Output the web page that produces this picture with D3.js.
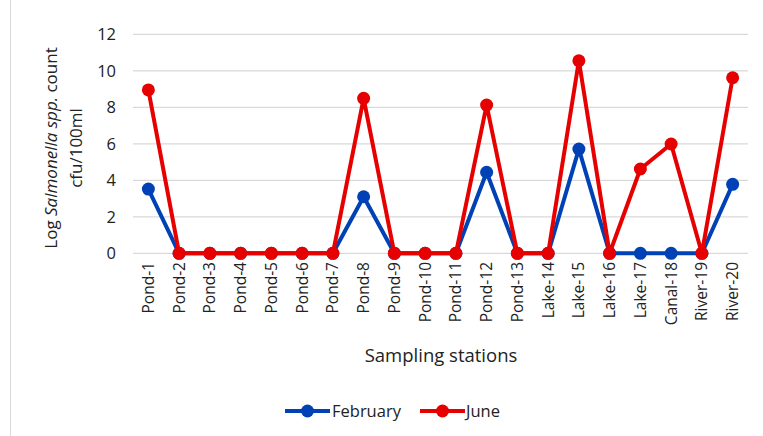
<!DOCTYPE html>
<html><head><meta charset="utf-8">
<script src="https://cdn.jsdelivr.net/npm/d3@7"></script>
<style>body{margin:0;background:#fff}svg{display:block}text{font-family:"Open Sans","Noto Sans",sans-serif;fill:#222}</style>
</head><body><svg id="c" width="763" height="436"></svg>
<script>
const stations = ["Pond-1","Pond-2","Pond-3","Pond-4","Pond-5","Pond-6","Pond-7","Pond-8","Pond-9","Pond-10","Pond-11","Pond-12","Pond-13","Lake-14","Lake-15","Lake-16","Lake-17","Canal-18","River-19","River-20"];
const february = [3.52,0,0,0,0,0,0,3.1,0,0,0,4.44,0,0,5.71,0,0,0,0,3.78];
const june = [8.95,0,0,0,0,0,0,8.49,0,0,0,8.12,0,0,10.55,0,4.62,5.99,0,9.62];
const yTicks = [0,2,4,6,8,10,12];
const seriesNames = ["February","June"];
const seriesColors = ["#0042b5","#e60000"];

const svg = d3.select("#c");
const x = d3.scaleBand().domain(stations).range([133,748]);
const y = d3.scaleLinear().domain([0,12]).range([253.3,34.3]);

svg.append("line").attr("x1",10.5).attr("x2",10.5).attr("y1",0).attr("y2",436).attr("stroke","#d9d9d9");

svg.append("g").selectAll("line").data(yTicks).join("line")
  .attr("x1",133).attr("x2",748).attr("y1",d=>y(d)).attr("y2",d=>y(d))
  .attr("stroke","#d9d9d9").attr("stroke-width",1.2);

svg.append("g").selectAll("text").data(yTicks).join("text")
  .attr("x",116).attr("y",d=>y(d)).attr("dy","0.36em").attr("text-anchor","end")
  .style("font-size","16.5px").text(d=>d);

svg.append("g").selectAll("text").data(stations).join("text")
  .attr("transform",d=>`translate(${x(d)+x.bandwidth()/2+5.5},262) rotate(-90)`)
  .attr("text-anchor","end").style("font-size","15.5px").text(d=>d);

const yt = svg.append("text").attr("transform","translate(64,148) rotate(-90)").attr("text-anchor","middle").style("font-size","17px");
yt.append("tspan").attr("x",0).attr("dy","-0.4em").text("Log ");
yt.append("tspan").style("font-style","italic").text("Salmonella spp.");
yt.append("tspan").text(" count");
yt.append("tspan").attr("x",0).attr("dy","1.45em").text("cfu/100ml");

svg.append("text").attr("x",441).attr("y",362).attr("text-anchor","middle").style("font-size","18.5px").text("Sampling stations");

const cx = d=>x(d)+x.bandwidth()/2;
[february,june].forEach((vals,i)=>{
  const pts = stations.map((s,j)=>[cx(s),y(vals[j])]);
  svg.append("path").attr("d",d3.line()(pts)).attr("fill","none")
    .attr("stroke",seriesColors[i]).attr("stroke-width",4).attr("stroke-linejoin","round");
  svg.append("g").selectAll("circle").data(pts).join("circle")
    .attr("cx",d=>d[0]).attr("cy",d=>d[1]).attr("r",6.5).attr("fill",seriesColors[i]);
});

const lg = [{x:285,tx:332},{x:420,tx:466}];
seriesNames.forEach((n,i)=>{
  const g = svg.append("g");
  g.append("line").attr("x1",lg[i].x).attr("x2",lg[i].x+45).attr("y1",411).attr("y2",411).attr("stroke",seriesColors[i]).attr("stroke-width",4);
  g.append("circle").attr("cx",lg[i].x+22.5).attr("cy",411).attr("r",6.5).attr("fill",seriesColors[i]);
  g.append("text").attr("x",lg[i].tx).attr("y",411).attr("dy","0.36em").style("font-size","16.5px").text(n);
});
</script></body></html>
